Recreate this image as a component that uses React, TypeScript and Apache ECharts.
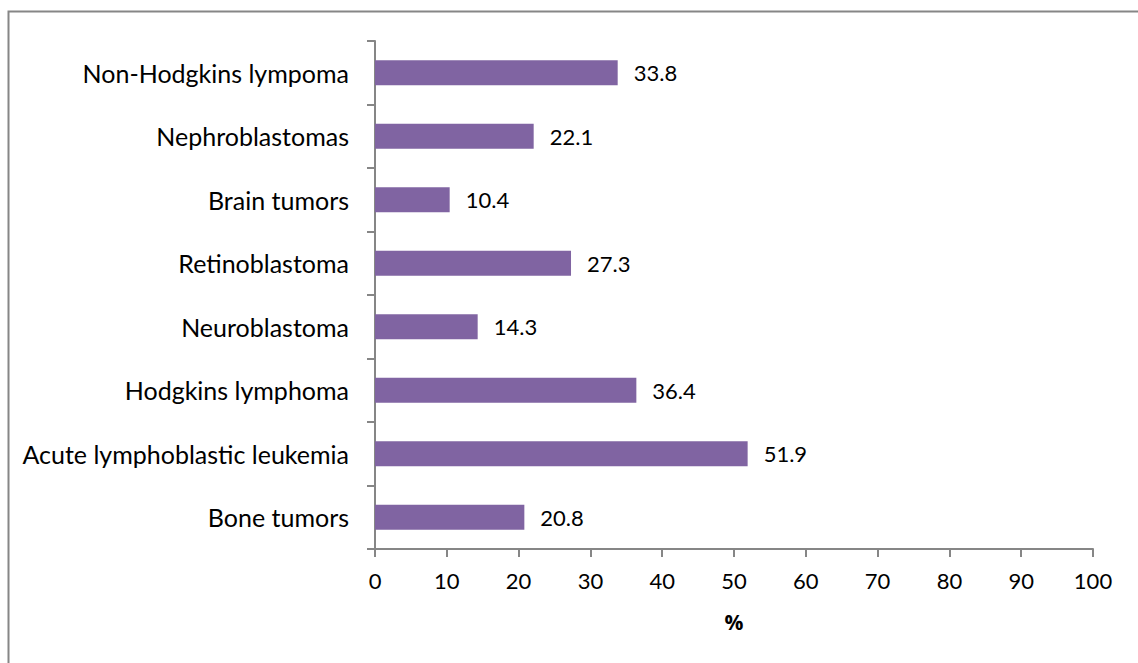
import React, { useEffect, useRef } from "react";
import * as echarts from "echarts";

const categories = [
  "Bone tumors",
  "Acute lymphoblastic leukemia",
  "Hodgkins lymphoma",
  "Neuroblastoma",
  "Retinoblastoma",
  "Brain tumors",
  "Nephroblastomas",
  "Non-Hodgkins lympoma",
];
const values = [20.8, 51.9, 36.4, 14.3, 27.3, 10.4, 22.1, 33.8];
const xTicks = { min: 0, max: 100, interval: 10 };
const axisName = "%";

export default function App() {
  const ref = useRef<HTMLDivElement>(null);
  useEffect(() => {
    const chart = echarts.init(ref.current!, null, { renderer: "svg" });
    const font = "Lato, 'Open Sans', sans-serif";
    chart.setOption({
      animation: false,
      textStyle: { fontFamily: font },
      graphic: [
        {
          type: "rect",
          shape: { x: 8.5, y: 11.5, width: 1200, height: 700 },
          style: { fill: "none", stroke: "#868686", lineWidth: 2 },
          silent: true,
        },
      ],
      grid: { left: 375, right: 45, top: 41, bottom: 114, containLabel: false },
      xAxis: {
        type: "value",
        min: xTicks.min,
        max: xTicks.max,
        interval: xTicks.interval,
        name: axisName,
        nameLocation: "middle",
        nameGap: 62,
        nameTextStyle: {
          fontSize: 21,
          fontWeight: "bold",
          color: "#000",
          fontFamily: "'Open Sans', 'DejaVu Sans', sans-serif",
        },
        axisLine: { show: true, lineStyle: { color: "#868686", width: 2 } },
        axisTick: { show: true, length: 8, lineStyle: { color: "#868686", width: 2 } },
        axisLabel: { fontSize: 22, color: "#000", margin: 20, fontFamily: font },
        splitLine: { show: false },
      },
      yAxis: {
        type: "category",
        data: categories,
        axisLine: { show: true, lineStyle: { color: "#868686", width: 2 } },
        axisTick: { show: true, length: 8, lineStyle: { color: "#868686", width: 2 } },
        axisLabel: { fontSize: 25, color: "#000", margin: 26, fontFamily: font },
      },
      series: [
        {
          type: "bar",
          data: values,
          barCategoryGap: "61%",
          itemStyle: { color: "#8064A2" },
          label: {
            show: true,
            position: "right",
            distance: 16,
            fontSize: 22,
            color: "#000",
            fontFamily: font,
            formatter: (p: any) => p.value.toFixed(1),
          },
        },
      ],
    });
    return () => chart.dispose();
  }, []);
  return (
    <div
      ref={ref}
      style={{ position: "fixed", left: 0, top: 0, width: 1138, height: 663, background: "#fff" }}
    />
  );
}
